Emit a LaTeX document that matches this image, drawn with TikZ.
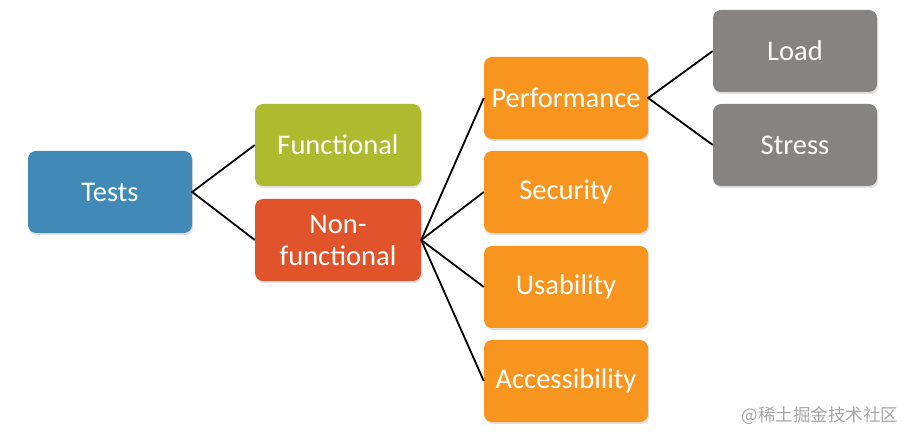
\documentclass[tikz,border=0pt]{standalone}
\usepackage{fontspec}
\setmainfont{Carlito}
\newfontfamily\cjkfont{Noto Sans CJK SC}
\usetikzlibrary{shadows}
\definecolor{testblue}{HTML}{418AB7}
\definecolor{funcgreen}{HTML}{AEBB2F}
\definecolor{nonfuncred}{HTML}{E0532B}
\definecolor{nfrorange}{HTML}{F7951E}
\definecolor{perfgray}{HTML}{858482}
\begin{document}
\begin{tikzpicture} [x = 1pt, y = -1pt,
	box/.style = {rounded corners = 8pt, minimum width = 164pt, minimum height = 82pt,
		text = white, font = \fontsize{28.5}{32}\selectfont, align = center, inner sep = 0pt,
		drop shadow = {shadow xshift = 1pt, shadow yshift = -2pt, opacity = 0.25}},
	link/.style = {black, line width = 1.8pt}]
	\useasboundingbox (0,0) rectangle (907,435);
	\node [box, fill = testblue] (tests) at (110,192) {Tests};
	\node [box, fill = funcgreen, minimum width = 166pt] (func) at (338,145) {Functional};
	\node [box, fill = nonfuncred, minimum width = 166pt] (nonfunc) at (338,240) {Non-\\functional};
	\node [box, fill = nfrorange] (perf) at (566,98) {Performance};
	\node [box, fill = nfrorange] (sec) at (566,192) {Security};
	\node [box, fill = nfrorange] (usab) at (566,287) {Usability};
	\node [box, fill = nfrorange] (access) at (566,381) {Accessibility};
	\node [box, fill = perfgray] (load) at (795,51) {Load};
	\node [box, fill = perfgray] (stress) at (795,145) {Stress};
	\draw [link] (func.west) -- (tests.east) -- (nonfunc.west);
	\foreach \n in {perf, sec, usab, access}
		\draw [link] (nonfunc.east) -- (\n.west);
	\draw [link] (load.west) -- (perf.east) -- (stress.west);
	\node [gray!70, font = \cjkfont\fontsize{17.5}{17.5}\selectfont, anchor = east] (mark) at (902,416) {@稀土掘金技术社区};
\end{tikzpicture}
\end{document}
